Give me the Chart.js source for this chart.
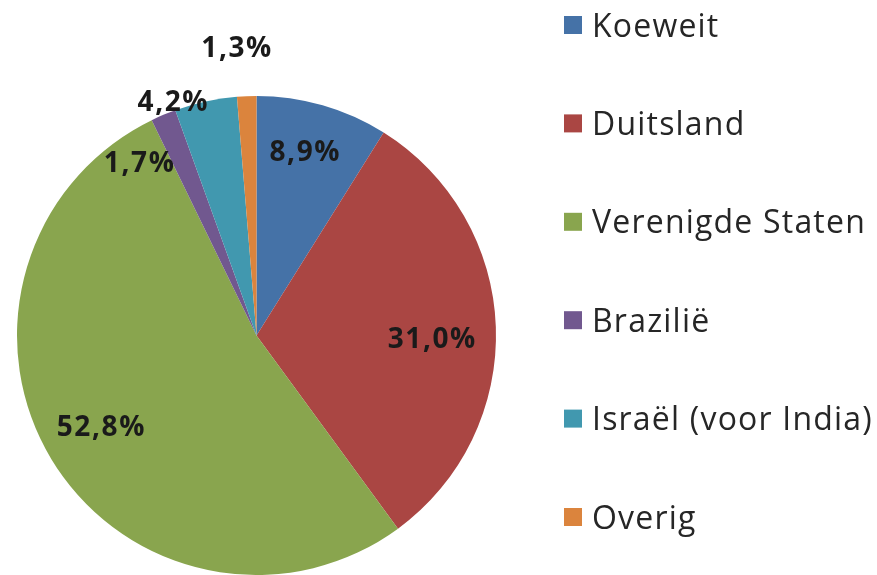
<!DOCTYPE html>
<html>
<head>
<meta charset="utf-8">
<script src="https://cdn.jsdelivr.net/npm/chart.js@4/dist/chart.umd.min.js"></script>
<style>
  html, body { margin: 0; padding: 0; background: #ffffff; }
  #wrap { position: relative; width: 877px; height: 575px; }
</style>
</head>
<body>
<div id="wrap"><canvas id="c" width="877" height="575"></canvas></div>
<script>
const categories = ["Koeweit", "Duitsland", "Verenigde Staten", "Brazilië", "Israël (voor India)", "Overig"];
const shares = [8.9, 31.0, 52.8, 1.7, 4.2, 1.3];
const labelTexts = ["8,9%", "31,0%", "52,8%", "1,7%", "4,2%", "1,3%"];
const colors = ["#4572A7", "#AA4643", "#89A54E", "#71588F", "#4198AF", "#DB843D"];

// label placement: radius factor and angular offset (degrees) relative to slice mid-angle
const labelRadius = [0.795, 0.734, 0.75, 0.875, 1.037, 1.208];
const labelAngleOffset = [-1.2, 2.8, 0.8, -11, -7.3, -1.5];

const labelPlugin = {
  id: 'sliceLabels',
  afterDatasetsDraw(chart) {
    const ctx = chart.ctx;
    const meta = chart.getDatasetMeta(0);
    ctx.save();
    ctx.font = '700 28px "Open Sans", sans-serif';
    if ('letterSpacing' in ctx) ctx.letterSpacing = '1.6px';
    ctx.fillStyle = '#1a1a1a';
    ctx.textAlign = 'center';
    ctx.textBaseline = 'alphabetic';
    meta.data.forEach((arc, i) => {
      const p = arc.getProps(['x', 'y', 'startAngle', 'endAngle', 'outerRadius'], true);
      const mid = (p.startAngle + p.endAngle) / 2 + labelAngleOffset[i] * Math.PI / 180;
      const r = p.outerRadius * labelRadius[i];
      const x = p.x + Math.cos(mid) * r;
      const y = p.y + Math.sin(mid) * r;
      ctx.fillText(labelTexts[i], x, y + 10);
    });
    ctx.restore();
  }
};

const legendPlugin = {
  id: 'sideLegend',
  afterDraw(chart) {
    const ctx = chart.ctx;
    const ds = chart.data.datasets[0];
    const top = 25, step = 98.4, boxX = 564, box = 18, textX = 592;
    ctx.save();
    ctx.font = '32px "Open Sans", sans-serif';
    if ('letterSpacing' in ctx) ctx.letterSpacing = '1.2px';
    ctx.textAlign = 'left';
    ctx.textBaseline = 'alphabetic';
    chart.data.labels.forEach((lab, i) => {
      const cy = top + i * step;
      ctx.fillStyle = ds.backgroundColor[i];
      ctx.fillRect(boxX, cy - box / 2, box, box);
      ctx.fillStyle = '#262626';
      ctx.fillText(lab, textX, cy + 11.5);
    });
    ctx.restore();
  }
};

new Chart(document.getElementById('c'), {
  type: 'pie',
  data: {
    labels: categories,
    datasets: [{
      data: shares,
      backgroundColor: colors,
      borderWidth: 0
    }]
  },
  options: {
    responsive: false,
    animation: false,
    layout: { padding: { left: 17, right: 381, top: 96, bottom: 0 } },
    plugins: {
      legend: { display: false },
      tooltip: { enabled: false }
    }
  },
  plugins: [labelPlugin, legendPlugin]
});
</script>
</body>
</html>
